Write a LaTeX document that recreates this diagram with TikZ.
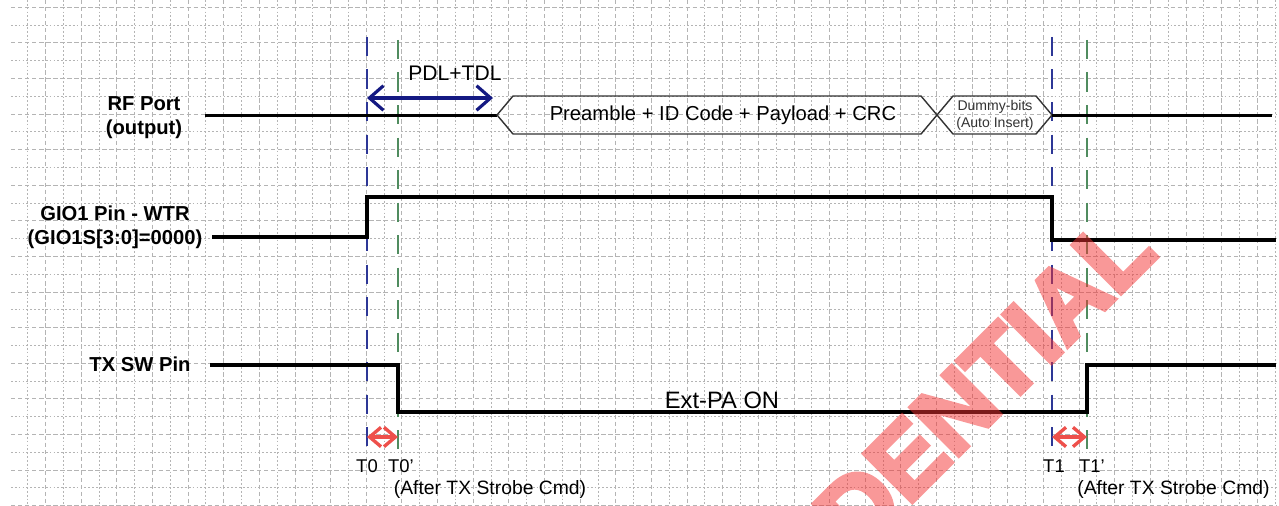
\documentclass[tikz,border=0pt]{standalone}
\usepackage{fontspec}
\setmainfont{Liberation Sans}
\newfontfamily\wmfont{Liberation Sans Bold}[FakeBold=5]
\usepackage{xcolor}
\usepackage{tikz}
\usetikzlibrary{arrows.meta}
\definecolor{gridgray}{RGB}{180,180,180}
\definecolor{tblue}{RGB}{45,55,150}
\definecolor{tgreen}{RGB}{80,140,95}
\definecolor{pdlblue}{RGB}{20,25,130}
\definecolor{dred}{RGB}{238,80,75}
\definecolor{wmred}{RGB}{245,50,50}

\begin{document}
\begin{tikzpicture}[x=0.02cm, y=-0.02cm, >=Latex,
    sig/.style={line width=1.9pt},
    bus/.style={line width=0.8pt, draw=black!80},
    tline/.style={line width=1.6pt, dash pattern=on 11pt off 7.5pt},
    gdot/.style={gridgray, line width=0.5pt, dash pattern=on 1pt off 1.2pt},
    gdash/.style={gridgray, line width=0.5pt, dash pattern=on 2.5pt off 1.5pt},
    lbl/.style={font=\bfseries\fontsize{11.5}{13.8}\selectfont, align=center},
    tlbl/.style={font=\fontsize{10.5}{12}\selectfont, inner sep=0pt},
    wmtext/.style={rotate=45, text=wmred, font=\wmfont\fontsize{56}{60}\selectfont},
    barb/.style={line width=1.8pt, {Straight Barb[length=8pt,width=14pt]}-{Straight Barb[length=8pt,width=14pt]}},
    dbarb/.style={dred, line width=1.9pt, {Straight Barb[length=6.5pt,width=11pt]}-{Straight Barb[length=6.5pt,width=11pt]}}]
  \useasboundingbox (0,0) rectangle (1279,506);
  \fill[white] (0,0) rectangle (1279,506);
  \foreach \k in {0,2,...,70}
    \draw[gdot] ({27.7+17.82*\k},0) -- ({27.7+17.82*\k},506);
  \foreach \k in {1,3,...,69}
    \draw[gdash] ({27.7+17.82*\k},0) -- ({27.7+17.82*\k},506);
  \foreach \k in {0,2,...,28}
    \draw[gdash] (11,{7.3+17.8*\k}) -- (1277,{7.3+17.8*\k});
  \foreach \k in {1,3,...,27}
    \draw[gdot] (11,{7.3+17.8*\k}) -- (1277,{7.3+17.8*\k});

  \foreach \n/\x/\c/\ya in {T0/367/tblue/37, T0p/398/tgreen/40, T1/1052/tblue/37, T1p/1087/tgreen/40} {
    \coordinate (\n-top) at (\x,\ya);
    \coordinate (\n-bot) at (\x,456);
    \draw[tline, \c] (\n-top) -- (\n-bot);
  }

  \draw[sig] (205,115.5) -- (497,115.5);
  \draw[bus] (497,115) -- (513,96) -- (921,96) -- (953,134) -- (1036,134) -- (1052,115)
    -- (1036,96) -- (953,96) -- (921,134) -- (513,134) -- cycle;
  \draw[sig] (1052,115.5) -- (1272,115.5);
  \draw[sig] (212,237) -- (367,237) -- (367,197) -- (1052,197) -- (1052,240) -- (1276,240);
  \draw[sig] (210,365) -- (398,365) -- (398,412) -- (1087,412) -- (1087,365) -- (1276,365);

  \node[lbl] (rf) at (144,118) {RF Port\\(output)};
  \node[lbl] (gio) at (115,227) {GIO1 Pin - WTR\\(GIO1S[3:0]=0000)};
  \node[lbl] (txsw) at (140,364) {TX SW Pin};

  \node[font=\fontsize{11.5}{13}\selectfont] (payload) at (723,115) {Preamble + ID Code + Payload + CRC};
  \node[align=center, text=black!80, font=\fontsize{8}{9.8}\selectfont] (dummy) at (995,115) {Dummy-bits\\(Auto Insert)};

  \coordinate (pdl-l) at (367,98);
  \coordinate (pdl-r) at (493,98);
  \draw[barb, pdlblue] (pdl-l) -- (pdl-r);
  \node[font=\fontsize{12}{14}\selectfont] (pdl) at (455,73) {PDL+TDL};

  \node[font=\fontsize{13.5}{16}\selectfont] (extpa) at (722,400) {Ext-PA ON};

  \coordinate (d0-l) at (367,437);
  \coordinate (d0-r) at (398,437);
  \coordinate (d1-l) at (1052,437);
  \coordinate (d1-r) at (1087,437);
  \draw[dbarb] (d0-l) -- (d0-r);
  \draw[dbarb] (d1-l) -- (d1-r);

  \node[tlbl] (t0) at (367,466) {T0};
  \node[tlbl] (t0p) at (401,466) {T0'};
  \node[tlbl] (t1) at (1054,466) {T1};
  \node[tlbl] (t1p) at (1092,466) {T1'};
  \node[font=\fontsize{11}{13}\selectfont] (after0) at (490,490) {(After TX Strobe Cmd)};
  \node[font=\fontsize{11}{13}\selectfont, anchor=west, inner xsep=0pt] (after1) at (1077,490) {(After TX Strobe Cmd)};

  \begin{scope}[transparency group, opacity=0.5]
    \clip (0,0) rectangle (1279,506);
    \node[wmtext] (wm) at (876,490) {CONFIDENTIAL};
  \end{scope}
\end{tikzpicture}
\end{document}
